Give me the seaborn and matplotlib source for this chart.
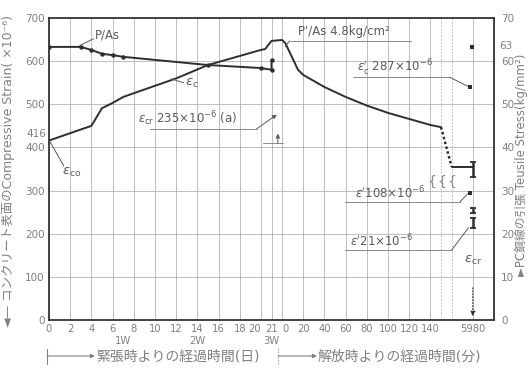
import matplotlib
matplotlib.use("Agg")
import matplotlib.pyplot as plt
import numpy as np
import pandas as pd
import seaborn as sns

# ---------------- data ----------------
# concrete surface compressive strain (x10^-6) after tensioning (days)
ec_days = [0, 4, 5, 6, 7, 12, 15, 20, 20.4, 21]
ec_days_val = [416, 450, 491, 503, 517, 560, 591, 626, 628, 647]
# after release (minutes)
ec_min = [0, 3, 15, 20, 40, 60, 80, 100, 120, 140, 150]
ec_min_val = [649, 642, 580, 568, 540, 517, 497, 480, 466, 452, 447]
# long-term tail (dotted, across the axis break)
ec_tail_min = [150, 160, 5980]
ec_tail_val = [447, 355, 355]

# PC steel tensile stress P/As (kg/mm2) after tensioning (days)
pa_days = [0, 3, 4, 5, 6, 7, 15, 20, 21, 21]
pa_val = [63.3, 63.3, 62.6, 61.7, 61.4, 61.0, 59.1, 58.4, 58.0, 60.3]

# measurements at 5980 min (strain axis units)
end_pts_val = [633, 540, 294]
end_bar_lo = [331, 248, 213]
end_bar_hi = [366, 260, 236]

day_ticks = [0, 2, 4, 6, 8, 10, 12, 14, 16, 18, 20, 21]
min_ticks = [0, 20, 40, 60, 80, 100, 120, 140, 5980]
left_ticks = [0, 100, 200, 300, 400, 500, 600, 700]
right_ticks = [0, 10, 20, 30, 40, 50, 60, 70]
week_labels = ["1W", "2W", "3W"]
week_days = [7, 14, 21]


def pos_day(d):
    return np.asarray(d, dtype=float)


def pos_min(m):
    m = np.asarray(m, dtype=float)
    return np.where(m > 1000, 40.0, 22.0 + m / 10.0)


# ---------------- style ----------------
sns.set_theme(style="white")
plt.rcParams['font.family'] = ['DejaVu Sans', 'Noto Sans CJK JP']
plt.rcParams['mathtext.fontset'] = 'dejavusans'

LINE = '#2e2e2e'
TXT = '#5a5a5a'
TICK = '#808080'
GRID = '#b4b4b4'

fig = plt.figure(figsize=(5.28, 3.70), dpi=100)
ax = fig.add_axes([49 / 528, 50 / 370, 445 / 528, 302 / 370])
ax2 = ax.twinx()

ax.set_xlim(0, 42)
ax.set_ylim(0, 700)
ax2.set_ylim(0, 70)

# grid
for gx in list(range(0, 21, 2)) + [21, 22, 24, 26, 28, 30, 32, 34, 36, 40]:
    ax.axvline(gx, color=GRID, lw=0.6, zorder=0)
for gx in [37, 38]:
    ax.axvline(gx, color=GRID, lw=0.6, ls=(0, (2, 2)), zorder=0)
for gy in left_ticks[1:-1]:
    ax.axhline(gy, color=GRID, lw=0.6, zorder=0)

# ---------------- curves ----------------
df_ec1 = pd.DataFrame({'pos': pos_day(ec_days), 'val': ec_days_val})
df_ec2 = pd.DataFrame({'pos': pos_min(ec_min), 'val': ec_min_val})
df_ec = pd.concat([df_ec1, df_ec2], ignore_index=True)
sns.lineplot(data=df_ec, x='pos', y='val', ax=ax, color=LINE, lw=1.4,
             sort=False, estimator=None)
df_tail = pd.DataFrame({'pos': pos_min(ec_tail_min), 'val': ec_tail_val})
sns.lineplot(data=df_tail.iloc[:2], x='pos', y='val', ax=ax, color=LINE, lw=1.8,
             ls=(0, (1, 1)), sort=False, estimator=None)
sns.lineplot(data=df_tail.iloc[1:], x='pos', y='val', ax=ax, color=LINE, lw=1.4,
             sort=False, estimator=None)

df_pa = pd.DataFrame({'pos': pos_day(pa_days), 'val': pa_val})
sns.lineplot(data=df_pa, x='pos', y='val', ax=ax2, color=LINE, lw=1.4,
             sort=False, estimator=None, marker='o', markersize=3.2,
             markeredgewidth=0, markerfacecolor=LINE)

# end-of-test measurements
x_end = float(pos_min([5980])[0])
sns.scatterplot(x=[x_end - 0.1, x_end - 0.3, x_end - 0.3], y=end_pts_val, ax=ax,
                color=LINE, marker='s', s=10, linewidth=0, zorder=5)
lo = np.array(end_bar_lo); hi = np.array(end_bar_hi)
ax.errorbar([x_end] * 3, (lo + hi) / 2, yerr=(hi - lo) / 2, fmt='none',
            ecolor=LINE, elinewidth=1.8, capsize=2.2, capthick=1.3, zorder=5)
ax.annotate('', xy=(x_end, 2), xytext=(x_end, 81),
            arrowprops=dict(arrowstyle='-|>', color=LINE, lw=0.8, ls=':',
                            mutation_scale=7))

# ---------------- axes / ticks ----------------
for sp in ['left', 'right', 'top', 'bottom']:
    ax.spines[sp].set_color('#333333')
    ax.spines[sp].set_linewidth(1.3)
    ax2.spines[sp].set_visible(False)

xt = list(pos_day(day_ticks)) + list(pos_min(min_ticks))
xl = [str(d) for d in day_ticks] + [str(m) for m in min_ticks]
ax.set_xticks(xt)
ax.set_xticklabels(xl)
ax.set_yticks(left_ticks)
ax.set_yticklabels([str(v) for v in left_ticks])
ax2.set_yticks(right_ticks)
ax2.set_yticklabels([str(v) for v in right_ticks])
ax.tick_params(axis='both', length=0, labelsize=7.5, labelcolor=TICK, pad=3)
ax.tick_params(axis='x', labelsize=7.2)
ax2.tick_params(axis='y', length=0, labelsize=7.5, labelcolor=TICK, pad=5)
# crowded "20 21 0" around the break
xlabs = ax.get_xticklabels()
xlabs[10].set_horizontalalignment('right')
xlabs[12].set_horizontalalignment('left')
ax.set_xlabel('')
ax.set_ylabel('')
ax2.set_ylabel('')
ax.text(-0.3, 432, '416', ha='right', va='center', fontsize=7.5, color=TICK,
        transform=ax.transData, clip_on=False)
ax2.text(42.45, 63.6, '63', ha='left', va='center', fontsize=7.5, color=TICK,
         clip_on=False)

trans = ax.get_xaxis_transform()
for lab, d in zip(week_labels, week_days):
    ax.text(d, -0.068, lab, ha='center', va='center', fontsize=7.2,
            color=TICK, transform=trans)

# ---------------- annotations ----------------
def leader(x0, y0, x1, y1, arrow=False, a=ax):
    a.annotate('', xy=(x1, y1), xytext=(x0, y0),
               arrowprops=dict(arrowstyle='-|>' if arrow else '-',
                               color=TXT, lw=0.7, mutation_scale=6,
                               shrinkA=0, shrinkB=0))

def line(x, y, **kw):
    ax.plot(x, y, color='#8a8a8a', lw=0.7, **kw)

FS = 8.5
ax.text(4.3, 661, 'P/As', fontsize=FS, color=TXT, va='center')
leader(2.9, 636, 4.2, 652)

ax.text(12.8, 549, r'$\varepsilon_{\rm c}$', fontsize=9.5, color=TXT, va='center')
leader(11.5, 559, 12.7, 550)

ax.text(1.2, 341, r'$\varepsilon_{\rm co}$', fontsize=9.5, color=TXT, va='center')
leader(0.1, 413, 1.4, 357)

ax.text(8.4, 466, r'$\varepsilon_{\rm cr}$ 235×10$^{-6}$ (a)', fontsize=FS,
        color=TXT, va='center')
line([9.5, 19.6], [443, 443])
leader(19.6, 443, 21.5, 476, arrow=True)
line([20.2, 22.1], [410, 410])
leader(21.6, 410, 21.6, 432, arrow=True)

ax.text(23.5, 668, "P'/As 4.8kg/cm²", fontsize=FS, color=TXT, va='center')
line([22.7, 34.2], [647, 647])
leader(22.3, 634, 22.7, 647)

ax.text(29.1, 584, r"$\varepsilon_{\rm c}'$ 287×10$^{-6}$", fontsize=FS,
        color=TXT, va='center')
line([28.7, 37.8], [563, 563])
leader(37.8, 563, 39.5, 542)

ax.text(28.9, 294, r"$\varepsilon'$108×10$^{-6}$", fontsize=FS, color=TXT,
        va='center')
line([27.9, 38.8], [274, 274])
leader(38.8, 274, 39.5, 292)

ax.text(28.4, 183, r"$\varepsilon'$21×10$^{-6}$", fontsize=FS, color=TXT,
        va='center')
line([27.9, 38.0], [162, 162])
leader(38.0, 162, 39.6, 214)

ax.text(40.0, 139, r'$\varepsilon_{\rm cr}$', fontsize=9.5, color=TXT,
        ha='center', va='center')

for bx in [36.1, 37.1, 38.0]:
    ax.text(bx, 320, '{', fontsize=10, color='#8a8a8a', ha='center',
            va='center')

# ---------------- axis titles ----------------
fig.text(9 / 528, 1 - 171 / 370,
         '◄— コンクリート表面のCompressive Strain( ×10⁻⁶)',
         rotation=90, ha='center', va='center', fontsize=9, color=TICK)
fig.text(521 / 528, 1 - 165 / 370,
         '►PC鋼線の引張 Teusile Stress(kg/mm²)',
         rotation=90, ha='center', va='center', fontsize=8.5, color=TICK)

yb = 370 - 356
fig.add_artist(plt.Line2D([47 / 528, 47 / 528], [(yb - 8) / 370, (yb + 7) / 370],
                          color=TICK, lw=0.8))
fig.add_artist(plt.Line2D([278 / 528, 278 / 528], [(yb - 8) / 370, (yb + 9) / 370],
                          color=TICK, lw=0.8, ls=':'))
ax.annotate('', xy=(95, yb), xytext=(47, yb), xycoords='figure pixels',
            textcoords='figure pixels',
            arrowprops=dict(arrowstyle='-|>', color=TICK, lw=0.8,
                            mutation_scale=6, shrinkA=0, shrinkB=0))
ax.annotate('', xy=(317, yb), xytext=(278, yb), xycoords='figure pixels',
            textcoords='figure pixels',
            arrowprops=dict(arrowstyle='-|>', color=TICK, lw=0.8,
                            mutation_scale=6, shrinkA=0, shrinkB=0))
fig.text(96 / 528, yb / 370, '緊張時よりの経過時間(日)', ha='left', va='center',
         fontsize=10, color=TICK)
fig.text(318 / 528, yb / 370, '解放時よりの経過時間(分)', ha='left', va='center',
         fontsize=10, color=TICK)

fig.savefig('out.png', dpi=100)
